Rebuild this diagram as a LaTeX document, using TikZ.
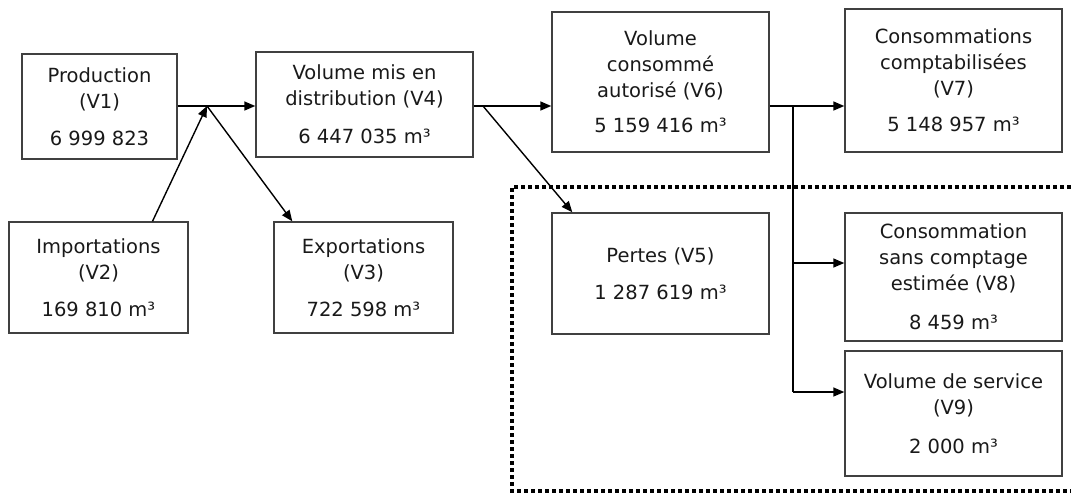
\documentclass[tikz,border=0pt]{standalone}
\usepackage{fontspec}
\setmainfont{DejaVu Sans}
\usetikzlibrary{arrows.meta, positioning, calc}
\tikzset{
  box/.style = {draw=black!75, line width=1.4pt, align=center, inner sep=0pt,
    text=black!90, font=\fontsize{19.5}{26}\selectfont},
  flow/.style = {line width=1.4pt, -{Triangle[length=11pt, width=9pt]}},
  losses/.style = {line width=4.5pt, dash pattern=on 4pt off 3pt}
}

\begin{document}
\begin{tikzpicture}[x=1pt, y=-1pt]

  \useasboundingbox (0,0) rectangle (1071,493);

  %% Water balance

  % Losses frame
  \draw[losses] (1071,187) -- (512,187) -- (512,491) -- (1071,491);

  % Inputs
  \node[box, minimum width=155, minimum height=105] (v1) at (99.5,106.5) {Production\\(V1)\\[11pt]6 999 823};
  \node[box, minimum width=179, minimum height=111] (v2) at (98.5,277.5) {Importations\\(V2)\\[11pt]169 810 m³};
  \node[box, minimum width=179, minimum height=111] (v3) at (363.5,277.5) {Exportations\\(V3)\\[11pt]722 598 m³};
  \node[box, minimum width=217, minimum height=105] (v4) at (364.5,104.5) {Volume mis en\\distribution (V4)\\[12pt]6 447 035 m³};

  % Outputs
  \node[box, minimum width=217, minimum height=140] (v6) at (660.5,82) {Volume\\consommé\\autorisé (V6)\\[9pt]5 159 416 m³};
  \node[box, minimum width=217, minimum height=143] (v7) at (953.5,80.5) {Consommations\\comptabilisées\\(V7)\\[10pt]5 148 957 m³};
  \node[box, minimum width=217, minimum height=121] (v5) at (660.5,273.5) {Pertes (V5)\\[11pt]1 287 619 m³};
  \node[box, minimum width=217, minimum height=128] (v8) at (953.5,277) {Consommation\\sans comptage\\estimée (V8)\\[13pt]8 459 m³};
  \node[box, minimum width=217, minimum height=125] (v9) at (953.5,413.5) {Volume de service\\(V9)\\[13pt]2 000 m³};

  % Junctions
  \coordinate (j1) at (207,106);
  \coordinate (j2) at (483,106);
  \coordinate (j3) at (793,106);
  \coordinate (j4) at (793,263);
  \coordinate (j5) at (793,392);

  % Arrows
  \draw[flow] (j1 -| v1.east) -- (j1 -| v4.west);
  \draw[flow] ([xshift=54pt]v2.north) -- (j1);
  \draw[flow] (j1) -- ([xshift=19pt]v3.north west);
  \draw[flow] (j2 -| v4.east) -- (j2 -| v6.west);
  \draw[flow] (j2) -- ([xshift=21pt]v5.north west);
  \draw[flow] (j3 -| v6.east) -- (j3 -| v7.west);
  \draw[line width=1.4pt] (j3) -- (j5);
  \draw[flow] (j4) -- (j4 -| v8.west);
  \draw[flow] (j5) -- (j5 -| v9.west);

\end{tikzpicture}
\end{document}
